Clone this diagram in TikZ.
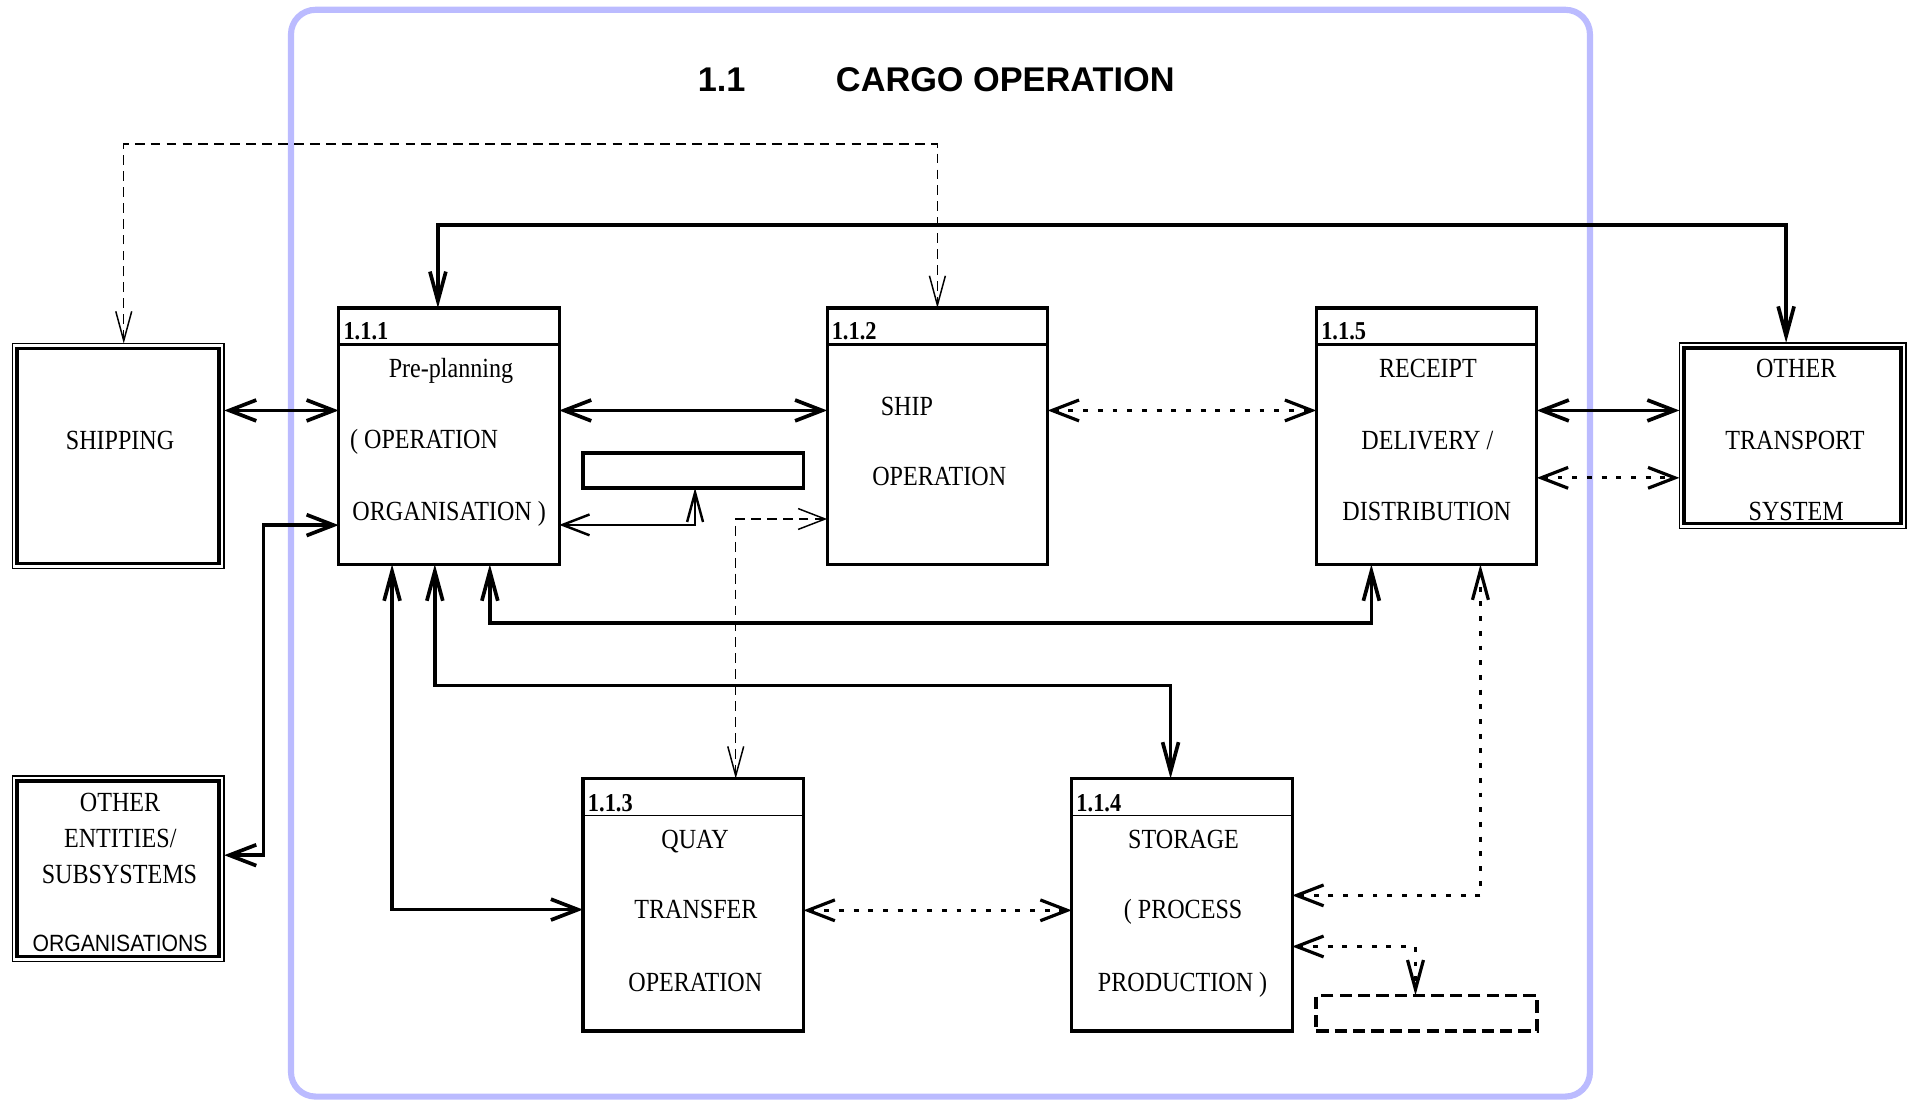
\documentclass[tikz,border=0pt]{standalone}
\usepackage{fontspec}
\setmainfont{Liberation Serif}[FakeStretch=0.87]
\newfontfamily\titlefont{Liberation Sans}
\newfontfamily\orgfont{Liberation Sans}[FakeStretch=0.9]
\usetikzlibrary{arrows.meta, positioning}
\definecolor{framecol}{RGB}{187,187,255}

\begin{document}
\begin{tikzpicture}[x=0.5pt, y=-0.5pt]
    \tikzset{
      hbarb/.tip={Straight Barb[length=11pt, width=8.5pt]},
      vbarb/.tip={Straight Barb[length=12pt, width=6.5pt]},
      procbox/.style={draw, line width=1.3pt, minimum width=90pt, minimum height=104.6pt, inner sep=0pt, outer sep=0pt},
      lowbox/.style={procbox, minimum height=103pt},
      extbox/.style={draw, line width=0.6pt, inner sep=0pt, outer sep=0pt,
        path picture={\draw[line width=1.5pt] ([shift={(2pt,-2pt)}]path picture bounding box.north west) rectangle ([shift={(-2pt,2pt)}]path picture bounding box.south east);}},
      storebox/.style={draw, line width=1.5pt, minimum width=90pt, minimum height=14.3pt, inner sep=0pt, outer sep=0pt},
      boxtext/.style={font=\fontsize{11.3}{13}\selectfont, anchor=base, inner sep=0pt},
      numtext/.style={font=\bfseries\fontsize{10.5}{12}\selectfont, anchor=base west, inner sep=0pt},
      flow/.style={line width=1.5pt},
      dataflow/.style={line width=1pt},
      ctrl/.style={line width=0.6pt, dash pattern=on 4pt off 2.5pt},
      event/.style={line width=1.3pt, dash pattern=on 2pt off 4pt}
    }
    \useasboundingbox (0,0) rectangle (1563,898.6);

    % system frame
    \draw[line width=2.5pt, framecol, rounded corners=10pt] (237.5,8) rectangle (1297.7,895);
    \node[font=\titlefont\bfseries\fontsize{14}{16}\selectfont, anchor=base, inner sep=0pt] (num) at (589,74.3) {1.1};
    \node[font=\titlefont\bfseries\fontsize{14}{16}\selectfont, anchor=base, inner sep=0pt] (title) at (820.5,74.3) {CARGO OPERATION};

    % processes
    \node[procbox] (p111) at (366.4,356) {};
    \node[procbox] (p112) at (765.1,356) {};
    \node[procbox] (p115) at (1164.3,356) {};
    \node[lowbox] (p113) at (565.8,738.5) {};
    \node[lowbox] (p114) at (964.7,738.5) {};
    \draw[line width=1.3pt] ([yshift=-15pt]p111.north west) -- ([yshift=-15pt]p111.north east);
    \draw[line width=1.3pt] ([yshift=-15pt]p112.north west) -- ([yshift=-15pt]p112.north east);
    \draw[line width=1.3pt] ([yshift=-15pt]p115.north west) -- ([yshift=-15pt]p115.north east);
    \draw[line width=0.7pt] ([yshift=-15pt]p113.north west) -- ([yshift=-15pt]p113.north east);
    \draw[line width=0.7pt] ([yshift=-15pt]p114.north west) -- ([yshift=-15pt]p114.north east);

    \node[numtext] (n111) at (280,277.5) {1.1.1};
    \node[numtext] (n112) at (678.5,277.5) {1.1.2};
    \node[numtext] (n115) at (1078,277.5) {1.1.5};
    \node[numtext] (n113) at (479.5,662.3) {1.1.3};
    \node[numtext] (n114) at (878.2,662.3) {1.1.4};

    \node[boxtext] (t111a) at (368.1,308) {Pre-planning};
    \node[boxtext] (t111b) at (346.1,366) {( OPERATION};
    \node[boxtext] (t111c) at (366.6,425) {ORGANISATION )};
    \node[boxtext] (t112a) at (740.2,339) {SHIP};
    \node[boxtext] (t112b) at (766.6,396) {OPERATION};
    \node[boxtext] (t115a) at (1165.5,308.5) {RECEIPT};
    \node[boxtext] (t115b) at (1165,366.5) {DELIVERY /};
    \node[boxtext] (t115c) at (1164.5,424.5) {DISTRIBUTION};
    \node[boxtext] (t113a) at (567.3,692.5) {QUAY};
    \node[boxtext] (t113b) at (568,749.5) {TRANSFER};
    \node[boxtext] (t113c) at (567.5,809.5) {OPERATION};
    \node[boxtext] (t114a) at (966,692.5) {STORAGE};
    \node[boxtext] (t114b) at (965.6,749.5) {( PROCESS};
    \node[boxtext] (t114c) at (965.2,809.5) {PRODUCTION )};

    % stores
    \node[storebox] (store) at (565.8,383.9) {};
    \node[storebox, dash pattern=on 5pt off 2.5pt, minimum height=14.5pt] (dstore) at (1164.3,827) {};

    % outside entities
    \node[extbox, minimum width=86.5pt, minimum height=91.8pt] (ship) at (96.5,372.2) {};
    \node[extbox, minimum width=86.5pt, minimum height=75.8pt] (oent) at (96.5,709) {};
    \node[extbox, minimum width=92.5pt, minimum height=75.8pt] (otr) at (1463.2,355.6) {};
    \node[boxtext] (tship) at (98,367) {SHIPPING};
    \node[boxtext] (toent1) at (98,662.5) {OTHER};
    \node[boxtext] (toent2) at (98.2,691.5) {ENTITIES/};
    \node[boxtext] (toent3) at (97.5,721) {SUBSYSTEMS};
    \node[boxtext, font=\orgfont\fontsize{9.6}{11}\selectfont] (toent4) at (98,776.5) {ORGANISATIONS};
    \node[boxtext] (totr1) at (1466,308.5) {OTHER};
    \node[boxtext] (totr2) at (1465,366.5) {TRANSPORT};
    \node[boxtext] (totr3) at (1466,424.5) {SYSTEM};

    % connectors
    \draw[flow, {hbarb}-{hbarb}] ([yshift=10.5pt]p111.west) -- ([yshift=10.5pt]p111.west -| ship.east);
    \draw[flow, {hbarb}-{hbarb}] ([yshift=10.5pt]p111.east) -- ([yshift=10.5pt]p111.east -| p112.west);
    \draw[event, {hbarb}-{hbarb}] ([yshift=10.5pt]p112.east) -- ([yshift=10.5pt]p112.east -| p115.west);
    \draw[flow, {hbarb}-{hbarb}] ([yshift=10.5pt]p115.east) -- ([yshift=10.5pt]p115.east -| otr.west);
    \draw[event, {hbarb}-{hbarb}] ([yshift=-17pt]p115.east) -- ([yshift=-17pt]p115.east -| otr.west);
    \draw[flow, {vbarb}-{vbarb}] ([xshift=-4.5pt]p111.north) -- ++(0,-67.7) -| ([xshift=-2.7pt]otr.north);
    \draw[ctrl, {vbarb}-{vbarb}] ([xshift=2.25pt]ship.north) -- ++(0,-162.9) -| (p112.north);
    \draw[flow, {hbarb}-{hbarb}] ([yshift=-36.3pt]p111.west) -- ++(-61.4,0) |- ([yshift=5.5pt]oent.east);
    \draw[dataflow, {hbarb}-{vbarb}] ([yshift=-36.2pt]p111.east) -| ([xshift=0.75pt]store.south);
    \draw[ctrl, {hbarb}-{vbarb}] ([yshift=-33.8pt]p112.west) -| ([xshift=17.35pt]p113.north);
    \draw[flow, {vbarb}-{vbarb}] ([xshift=16.7pt]p111.south) -- ++(0,48) -| ([xshift=-22.5pt]p115.south);
    \draw[flow, {vbarb}-{vbarb}] ([xshift=-5.75pt]p111.south) -- ++(0,98.8) -| ([xshift=-4.65pt]p114.north);
    \draw[flow, {vbarb}-{hbarb}] ([xshift=-23.2pt]p111.south) |- ([yshift=-1.95pt]p113.west);
    \draw[event, {hbarb}-{hbarb}] ([yshift=-2.25pt]p113.east) -- ([yshift=-2.25pt]p113.east -| p114.west);
    \draw[event, {vbarb}-{hbarb}] ([xshift=22pt]p115.south) |- ([yshift=3.85pt]p114.east);
    \draw[event, {hbarb}-{vbarb}] ([yshift=-17pt]p114.east) -| ([xshift=-4.5pt]dstore.north);
\end{tikzpicture}
\end{document}
